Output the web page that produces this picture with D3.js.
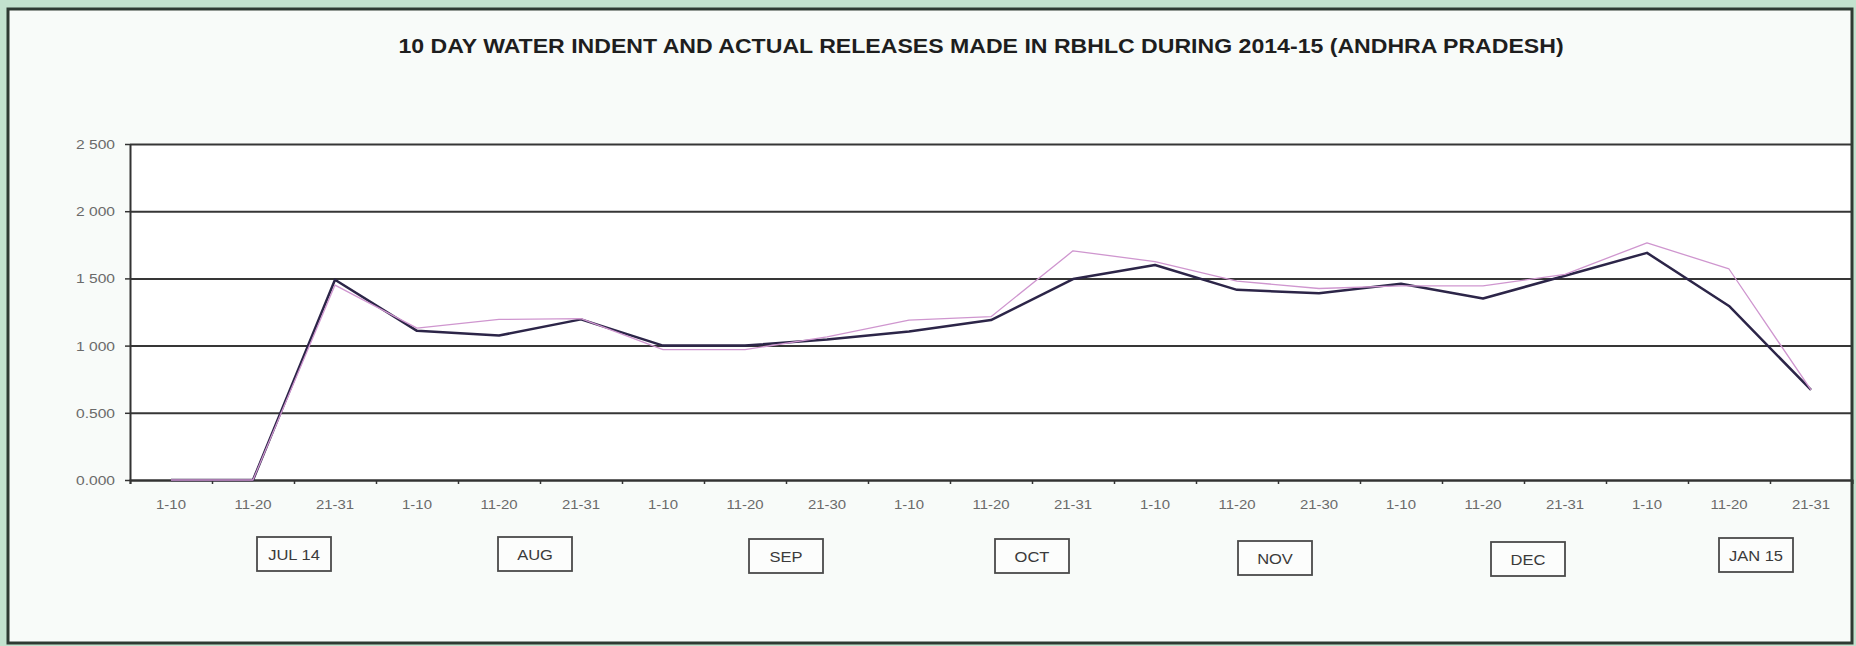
<!DOCTYPE html>
<html>
<head>
<meta charset="utf-8">
<script src="https://cdn.jsdelivr.net/npm/d3@7"></script>
<style>
  html, body { margin: 0; padding: 0; background: #c3e2ce; }
  svg { display: block; }
  text { font-family: "Liberation Sans", Arial, sans-serif; }
</style>
</head>
<body>
<svg id="chart" width="1856" height="646"></svg>
<script>
// Ten-day periods along the x axis (Jul 2014 – Jan 2015)
const periods = ["1-10","11-20","21-31","1-10","11-20","21-31","1-10","11-20","21-30",
                 "1-10","11-20","21-31","1-10","11-20","21-30","1-10","11-20","21-31",
                 "1-10","11-20","21-31"];
const months = ["JUL 14","AUG","SEP","OCT","NOV","DEC","JAN 15"];

// Actual releases (dark line)
const released = [0, 0, 1.49, 1.11, 1.075, 1.195, 1.00, 1.00, 1.045, 1.105, 1.19,
                  1.495, 1.60, 1.415, 1.39, 1.46, 1.35, 1.52, 1.69, 1.295, 0.67];
// Water indent (light line)
const indent   = [0, 0, 1.45, 1.13, 1.195, 1.20, 0.97, 0.97, 1.065, 1.19, 1.215,
                  1.705, 1.625, 1.48, 1.425, 1.445, 1.445, 1.53, 1.765, 1.57, 0.67];

const yTicks = [0, 0.5, 1, 1.5, 2, 2.5];
const yTickLabels = ["0.000","0.500","1 000","1 500","2 000","2 500"];
const title = "10 DAY WATER INDENT AND ACTUAL RELEASES MADE IN RBHLC DURING 2014-15 (ANDHRA PRADESH)";

const svg = d3.select("#chart");
const frame = { x: 8, y: 9, w: 1844, h: 634 };
const plot = { left: 130, right: 1852, top: 144, bottom: 480 };
const plotW = plot.right - plot.left;

// hand-placed nudges for the month caption boxes (dx, dy in px)
const monthNudge = [[0, 0], [-5, 0], [0, 2], [0, 2], [-3, 4], [4, 5], [-14, 1]];

const x = d3.scaleBand().domain(d3.range(periods.length)).range([plot.left, plot.right]).padding(0);
const xEdge = d3.scaleLinear().domain([0, periods.length]).range([plot.left, plot.right]);
const y = d3.scaleLinear().domain([0, 2.5]).range([plot.bottom, plot.top]);
const cx = i => x(i) + x.bandwidth() / 2;

// chart frame background
svg.append("rect")
  .attr("x", frame.x).attr("y", frame.y).attr("width", frame.w).attr("height", frame.h)
  .attr("fill", "#f8fbf9");

// plot area
svg.append("rect")
  .attr("x", plot.left).attr("y", plot.top).attr("width", plotW).attr("height", plot.bottom - plot.top)
  .attr("fill", "#ffffff");

// title
svg.append("text")
  .attr("transform", "translate(981,53) scale(1.1,1)")
  .attr("text-anchor", "middle")
  .attr("font-size", 21).attr("font-weight", "bold").attr("fill", "#1e1e1e")
  .text(title);

// horizontal gridlines
const grid = svg.append("g")
  .attr("transform", `translate(${plot.left},0)`)
  .call(d3.axisLeft(y).tickValues(yTicks).tickSize(-plotW).tickFormat(""));
grid.select(".domain").remove();
grid.selectAll(".tick line").attr("stroke", "#363636").attr("stroke-width", 2);

// y axis with labels
const yAxis = svg.append("g")
  .attr("transform", `translate(${plot.left},0)`)
  .call(d3.axisLeft(y).tickValues(yTicks).tickSize(5).tickSizeOuter(0)
        .tickFormat((d, i) => yTickLabels[i]));
yAxis.select(".domain").attr("stroke", "#333").attr("stroke-width", 2);
yAxis.selectAll(".tick line").attr("stroke", "#333").attr("stroke-width", 1.5);
yAxis.selectAll(".tick text")
  .attr("x", null).attr("dy", null)
  .attr("transform", "translate(-15,4.5) scale(1.2,1)")
  .attr("font-size", 13).attr("fill", "#6a6a6a")
  .attr("font-family", "\"Liberation Sans\", Arial, sans-serif");

// x axis: period boundary ticks
const xTicks = svg.append("g")
  .attr("transform", `translate(0,${plot.bottom})`)
  .call(d3.axisBottom(xEdge).tickValues(d3.range(periods.length + 1)).tickSize(4).tickFormat(""));
xTicks.select(".domain").attr("stroke", "#333").attr("stroke-width", 2);
xTicks.selectAll(".tick line").attr("stroke", "#333").attr("stroke-width", 1.5);

// x axis: period labels centred in each band
const xLabels = svg.append("g")
  .attr("transform", `translate(0,${plot.bottom})`)
  .call(d3.axisBottom(x).tickSize(0).tickFormat(i => periods[i]));
xLabels.select(".domain").remove();
xLabels.selectAll(".tick text")
  .attr("y", null).attr("dy", null)
  .attr("transform", "translate(0,29) scale(1.15,1)")
  .attr("font-size", 13).attr("fill", "#6a6a6a")
  .attr("font-family", "\"Liberation Sans\", Arial, sans-serif");

// series lines
const line = d3.line().x((d, i) => cx(i)).y(d => y(d));
svg.append("path").datum(released)
  .attr("d", line).attr("fill", "none")
  .attr("stroke", "#2c2548").attr("stroke-width", 2.5).attr("stroke-linejoin", "round");
svg.append("path").datum(indent)
  .attr("d", line).attr("fill", "none")
  .attr("stroke", "#cf96cf").attr("stroke-width", 1.3).attr("stroke-linejoin", "round");

// month boxes under the axis
const boxW = 74, boxH = 34, boxCY = 554;
const mg = svg.append("g").selectAll("g").data(months).join("g")
  .attr("transform", (d, m) =>
    `translate(${xEdge(3 * m + 2) + monthNudge[m][0]},${boxCY + monthNudge[m][1]})`);
mg.append("rect")
  .attr("x", -boxW / 2).attr("y", -boxH / 2).attr("width", boxW).attr("height", boxH)
  .attr("fill", "#fcfdfc").attr("stroke", "#4a4a4a").attr("stroke-width", 1.8);
mg.append("text")
  .attr("transform", "translate(0,5.5) scale(1.1,1)")
  .attr("text-anchor", "middle")
  .attr("font-size", 15).attr("fill", "#3a3a3a")
  .text(d => d);

// outer frame border
svg.append("rect")
  .attr("x", frame.x).attr("y", frame.y).attr("width", frame.w).attr("height", frame.h)
  .attr("fill", "none").attr("stroke", "#2e3a32").attr("stroke-width", 3);
</script>
</body>
</html>
